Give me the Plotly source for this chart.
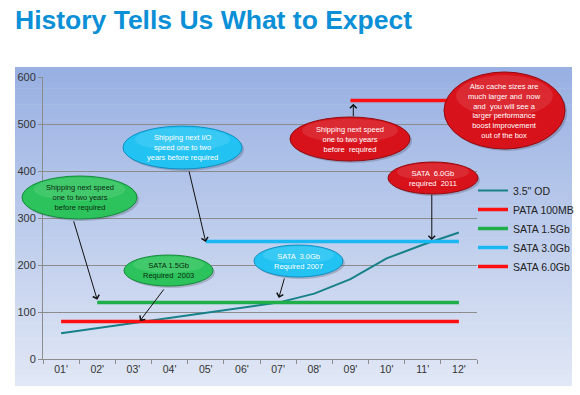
import plotly.graph_objects as go

# ---------------- data ----------------
years = ["01'", "02'", "03'", "04'", "05'", "06'", "07'", "08'", "09'", "10'", "11'", "12'"]
od_35 = [55, 66, 77, 88, 99, 110, 120, 139, 170, 214, 243, 269]

pata_years = ["01'", "02'", "03'", "04'", "05'", "06'", "07'", "08'", "09'", "10'", "11'", "12'"]
pata_100 = [80, 80, 80, 80, 80, 80, 80, 80, 80, 80, 80, 80]

sata15_years = ["02'", "03'", "04'", "05'", "06'", "07'", "08'", "09'", "10'", "11'", "12'"]
sata_15 = [120, 120, 120, 120, 120, 120, 120, 120, 120, 120, 120]

sata30_years = ["05'", "06'", "07'", "08'", "09'", "10'", "11'", "12'"]
sata_30 = [250, 250, 250, 250, 250, 250, 250, 250]

sata60_years = ["09'", "10'", "11'", "12'"]
sata_60 = [550, 550, 550, 550]

y_ticks = [0, 100, 200, 300, 400, 500, 600]

# ---------------- layout geometry ----------------
W, H = 580, 395
L, R, T, B = 43, 103, 77, 36
PW, PH = W - L - R, H - T - B


def pxx(p):
    return (p - L) / PW


def pxy(p):
    return (H - B - p) / PH


fig = go.Figure()

fig.add_trace(go.Scatter(x=years, y=od_35, mode="lines", name="3.5\" OD",
                         line=dict(color="#178089", width=2)))
fig.add_trace(go.Scatter(x=pata_years, y=pata_100, mode="lines", name="PATA 100MB",
                         line=dict(color="#ff1010", width=3.5)))
fig.add_trace(go.Scatter(x=sata15_years, y=sata_15, mode="lines", name="SATA 1.5Gb",
                         line=dict(color="#1fae4a", width=3.5)))
fig.add_trace(go.Scatter(x=sata30_years, y=sata_30, mode="lines", name="SATA 3.0Gb",
                         line=dict(color="#1ab8f2", width=3.5)))
fig.add_trace(go.Scatter(x=sata60_years, y=sata_60, mode="lines", name="SATA 6.0Gb",
                         line=dict(color="#ff1010", width=3.5)))

shapes = []
# gradient panel background
N = 60
top_c = (152, 176, 226)
bot_c = (224, 231, 245)
y_top, y_bot = 67, 386
for i in range(N):
    t = i / (N - 1)
    c = tuple(round(top_c[k] + (bot_c[k] - top_c[k]) * t) for k in range(3))
    ya = y_top + (y_bot - y_top) * i / N
    yb = y_top + (y_bot - y_top) * (i + 1) / N + 0.6
    shapes.append(dict(type="rect", xref="paper", yref="paper", layer="below",
                       x0=pxx(15), x1=pxx(572), y0=pxy(min(yb, y_bot)), y1=pxy(ya),
                       line=dict(width=0), fillcolor="rgb(%d,%d,%d)" % c))

GREEN = ("#2cc35c", "#15893a", "#0d2a10")
CYAN = ("#22c3f3", "#0d8fc2", "#ffffff")
RED = ("#d8121b", "#930a0f", "#ffffff")

bubbles = [
    # x0, x1, y0, y1 (pixels), style, text
    (22, 137, 176, 219, GREEN, "Shipping next speed<br>one to two years<br>before required"),
    (123, 242, 126, 169, CYAN, "Shipping next I/O<br>speed one to two<br>years before required"),
    (290, 410, 117, 161, RED, "Shipping next speed<br>one to two years<br>before  required"),
    (444, 565, 72, 149, RED, "Also cache sizes are<br>much larger and  now<br>and  you will see a<br>larger performance<br>boost improvement<br>out of the box"),
    (388, 478, 162, 194, RED, "SATA  6.0Gb<br>required  2011"),
    (254, 343, 245, 277, CYAN, "SATA  3.0Gb<br>Required 2007"),
    (124, 213, 255, 286, GREEN, "SATA 1.5Gb<br>Required  2003"),
]

annotations = []
for x0, x1, y0, y1, st, txt in bubbles:
    # shadow
    shapes.append(dict(type="circle", xref="paper", yref="paper", layer="above",
                       x0=pxx(x0 + 2), x1=pxx(x1 + 2), y0=pxy(y1 + 2), y1=pxy(y0 + 2),
                       line=dict(width=0), fillcolor="rgba(40,40,60,0.22)"))
    shapes.append(dict(type="circle", xref="paper", yref="paper", layer="above",
                       x0=pxx(x0), x1=pxx(x1), y0=pxy(y1), y1=pxy(y0),
                       line=dict(width=1, color=st[1]), fillcolor=st[0]))
    # glossy highlight
    w = x1 - x0
    h = y1 - y0
    shapes.append(dict(type="circle", xref="paper", yref="paper", layer="above",
                       x0=pxx(x0 + w * 0.10), x1=pxx(x1 - w * 0.10),
                       y0=pxy(y0 + h * 0.58), y1=pxy(y0 + h * 0.04),
                       line=dict(width=0), fillcolor="rgba(255,255,255,0.10)"))
    annotations.append(dict(xref="paper", yref="paper", x=pxx((x0 + x1) / 2), y=pxy((y0 + y1) / 2),
                            xanchor="center", yanchor="middle",
                            text=txt, showarrow=False, align="center",
                            font=dict(family="Arial, Liberation Sans, sans-serif", size=7.5, color=st[2])))

# arrows (head at data position, tail offset in pixels)
arrows = [
    (1.0, 126, -24, -80),
    (4.0, 249, -17, -72),
    (8.08, 543, 0, 14),
    (10.25, 253, 0, -47),
    (6.02, 130, 6, -21),
    (2.18, 81, 25, -33),
]
for x, y, ax, ay in arrows:
    annotations.append(dict(x=x, y=y, xref="x", yref="y", ax=ax, ay=ay, text="",
                            showarrow=True, arrowhead=4, arrowsize=1.3, arrowwidth=1,
                            arrowcolor="#111111", standoff=0, startstandoff=0))

annotations.append(dict(xref="paper", yref="paper", x=pxx(13), y=pxy(3), xanchor="left", yanchor="top",
                        text="<b>History Tells Us What to Expect</b>", showarrow=False,
                        font=dict(family="Arial, Liberation Sans, sans-serif", size=26.5, color="#0b8fd6")))

fig.update_layout(
    width=W, height=H,
    margin=dict(l=L, r=R, t=T, b=B, autoexpand=False),
    paper_bgcolor="white",
    plot_bgcolor="rgba(0,0,0,0)",
    shapes=shapes,
    annotations=annotations,
    font=dict(family="Arial, Liberation Sans, sans-serif", size=11, color="#333333"),
    showlegend=True,
    legend=dict(x=pxx(473), y=pxy(176), xanchor="left", yanchor="top",
                bgcolor="rgba(0,0,0,0)", font=dict(size=10.5, color="#222222"),
                itemwidth=30, tracegroupgap=0),
)
fig.update_xaxes(type="category", categoryorder="array", categoryarray=years,
                 range=[-0.5, 11.5], showgrid=False, showline=True, linecolor="#8c8c8c",
                 ticks="outside", ticklen=4, tickcolor="#8c8c8c", tickson="boundaries",
                 tickfont=dict(size=10.5, color="#333333"))
fig.update_yaxes(range=[0, 600], tickvals=y_ticks, showgrid=True, gridcolor="#8c8c8c", gridwidth=1,
                 showline=True, linecolor="#8c8c8c", ticks="outside", ticklen=4, tickcolor="#8c8c8c",
                 zeroline=False, tickfont=dict(size=11, color="#333333"))

fig.write_html("out.html", config={"displayModeBar": False},
               post_script="document.body.style.margin='0';document.body.style.overflow='hidden';")
